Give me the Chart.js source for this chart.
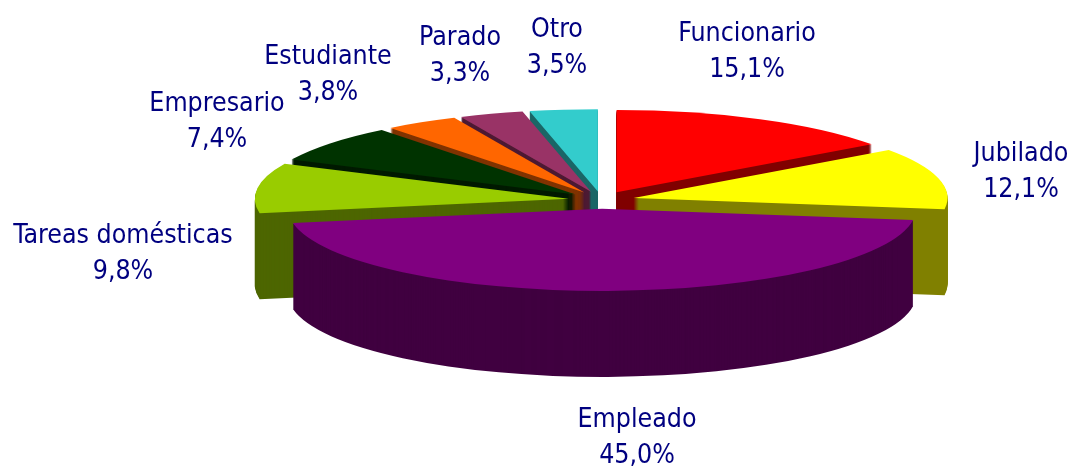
<!DOCTYPE html>
<html>
<head>
<meta charset="utf-8">
<style>
  html, body { margin: 0; padding: 0; background: #fff; }
  #wrap { width: 1073px; height: 467px; }
</style>
<script src="https://cdn.jsdelivr.net/npm/chart.js@4"></script>
</head>
<body>
<div id="wrap"><canvas id="pie"></canvas></div>
<script>
const categories = ['Funcionario', 'Jubilado', 'Empleado', 'Tareas domésticas', 'Empresario', 'Estudiante', 'Parado', 'Otro'];
const shares = [15.1, 12.1, 45.0, 9.8, 7.4, 3.8, 3.3, 3.5];
const topColors = ['#FF0000', '#FFFF00', '#800080', '#99CC00', '#003300', '#FF6600', '#993366', '#33CCCC'];
const sideColors = ['#800000', '#808000', '#400040', '#4D6600', '#001A00', '#803300', '#4D1A33', '#1A6666'];

// back slices first, the big front slice last
const drawOrder = [7, 0, 6, 5, 1, 4, 3, 2];
// label centre x, first line baseline y
const labelSpots = [[747, 41], [1021, 161], [637, 427], [123, 243], [217, 111], [328, 64], [460, 45], [557, 37]];

const squash = 0.262;
const depth = 86;
const explode = 33;

const pie3d = {
  id: 'pie3d',
  beforeDatasetDraw(chart, args) {
    const ctx = chart.ctx;
    const arcs = args.meta.data;
    drawOrder.forEach(i => {
      const arc = arcs[i];
      const mid = (arc.startAngle + arc.endAngle) / 2;
      const dx = Math.cos(mid) * explode;
      const dy = Math.sin(mid) * explode * squash;
      const base = arc.options;
      // the wall is just the same arc stacked downwards in the dark colour
      arc.options = Object.create(base, { backgroundColor: { value: sideColors[i] } });
      for (let d = depth; d >= 0; d--) {
        if (d === 0) arc.options = base;
        ctx.save();
        ctx.translate(arc.x + dx, arc.y + dy + d);
        ctx.scale(1, squash);
        ctx.translate(-arc.x, -arc.y);
        arc.draw(ctx);
        ctx.restore();
      }
    });
    return false;
  },
  afterDraw(chart) {
    const ctx = chart.ctx;
    ctx.save();
    ctx.fillStyle = '#000080';
    ctx.font = '26.5px "DejaVu Sans Condensed", "DejaVu Sans"';
    ctx.textAlign = 'center';
    ctx.textBaseline = 'alphabetic';
    categories.forEach((name, i) => {
      const [x, y] = labelSpots[i];
      ctx.fillText(name, x, y);
      ctx.fillText(shares[i].toFixed(1).replace('.', ',') + '%', x, y + 36);
    });
    ctx.restore();
  }
};

new Chart(document.getElementById('pie'), {
  type: 'pie',
  data: {
    labels: categories,
    datasets: [{
      data: shares,
      backgroundColor: topColors,
      borderWidth: 0
    }]
  },
  options: {
    responsive: true,
    maintainAspectRatio: false,
    animation: false,
    radius: 314,
    layout: { padding: { left: 130, bottom: 67 } },
    plugins: { legend: { display: false }, tooltip: { enabled: false } }
  },
  plugins: [pie3d]
});
</script>
</body>
</html>
